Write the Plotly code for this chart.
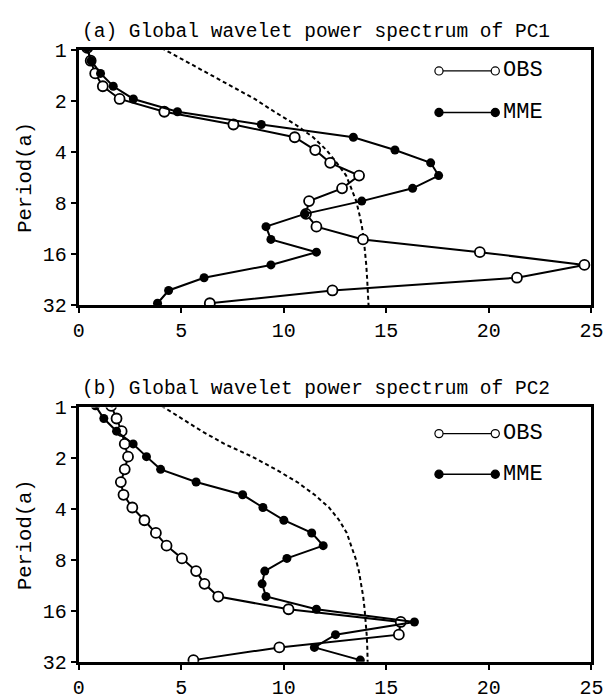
import plotly.graph_objects as go

# ---- data ----
periods = [0.977, 1.162, 1.381, 1.643, 1.953, 2.323, 2.762, 3.285, 3.906, 4.646, 5.525,
           6.570, 7.813, 9.292, 11.05, 13.14, 15.63, 18.58, 22.10, 26.28, 31.25]
sig_periods = periods + [37.16]

obs_pc1 = [0.41, 0.58, 0.80, 1.17, 1.99, 4.17, 7.54, 10.53, 11.53, 12.26, 13.67,
           12.84, 11.23, 11.08, 11.59, 13.86, 19.56, 24.66, 21.37, 12.37, 6.39]
mme_pc1 = [0.40, 0.60, 1.06, 1.68, 2.66, 4.81, 8.90, 13.39, 15.42, 17.16, 17.55,
           16.28, 13.80, 11.03, 9.13, 9.37, 11.59, 9.37, 6.11, 4.38, 3.84]
sig_pc1 = [4.03, 5.16, 6.30, 7.47, 8.58, 9.54, 10.56, 11.43, 12.08, 12.58, 13.04,
           13.29, 13.53, 13.68, 13.81, 13.90, 13.97, 14.02, 14.06, 14.09, 14.13, 14.16]

obs_pc2 = [1.58, 1.84, 2.09, 2.24, 2.40, 2.24, 2.05, 2.18, 2.61, 3.20, 3.76,
           4.28, 5.03, 5.72, 6.13, 6.80, 10.23, 15.70, 15.61, 9.78, 5.59]
mme_pc2 = [0.81, 1.22, 1.84, 2.65, 3.30, 3.99, 5.72, 7.99, 8.98, 10.00, 11.36,
           11.92, 10.15, 9.07, 8.94, 9.13, 11.59, 16.37, 12.52, 11.49, 13.73]
sig_pc2 = [4.03, 5.00, 6.00, 7.10, 8.45, 9.60, 10.65, 11.50, 12.20, 12.70, 13.07,
           13.28, 13.50, 13.66, 13.78, 13.87, 13.94, 14.00, 14.04, 14.07, 14.09, 14.10]

titles = ["(a) Global wavelet power spectrum of PC1",
          "(b) Global wavelet power spectrum of PC2"]
ytick_vals = [1, 2, 4, 8, 16, 32]
xtick_vals = [0, 5, 10, 15, 20, 25]
series_names = ["OBS", "MME"]

# ---- layout geometry (pixels) ----
W, H = 616, 700
X0, X1 = 75, 603
panels = [(41, 305), (411, 674)]
legend_rows = [(63, 106), (438, 480)]
title_y = [23, 392]
FONT = "Liberation Mono"

fig = go.Figure()

for i, (sig, obs, mme) in enumerate([(sig_pc1, obs_pc1, mme_pc1), (sig_pc2, obs_pc2, mme_pc2)]):
    xa = "x" if i == 0 else "x2"
    ya = "y" if i == 0 else "y2"
    fig.add_trace(go.Scatter(x=sig, y=sig_periods, mode="lines", xaxis=xa, yaxis=ya,
                             line=dict(color="black", width=2, dash="4px,3px"),
                             showlegend=False, hoverinfo="skip"))
    fig.add_trace(go.Scatter(x=obs, y=periods, mode="lines+markers", xaxis=xa, yaxis=ya,
                             line=dict(color="black", width=2),
                             marker=dict(symbol="circle", size=10, color="white",
                                         line=dict(color="black", width=1.8)),
                             name=series_names[0], showlegend=False))
    fig.add_trace(go.Scatter(x=mme, y=periods, mode="lines+markers", xaxis=xa, yaxis=ya,
                             line=dict(color="black", width=2),
                             marker=dict(symbol="circle", size=9, color="black",
                                         line=dict(color="black", width=0)),
                             name=series_names[1], showlegend=False))

axis_common = dict(showline=True, linecolor="black", linewidth=3, mirror=True,
                   ticks="outside", ticklen=5, tickwidth=2, tickcolor="black",
                   showgrid=False, zeroline=False,
                   tickfont=dict(family=FONT, size=20, color="black"))

layout = dict(width=W, height=H, margin=dict(l=0, r=0, t=0, b=0),
              paper_bgcolor="white", plot_bgcolor="white", showlegend=False)

for i, (top, bot) in enumerate(panels):
    sfx = "" if i == 0 else "2"
    layout["xaxis" + sfx] = dict(axis_common, domain=[X0 / W, X1 / W], range=[0, 25],
                                 tickvals=xtick_vals, anchor="y" + sfx)
    layout["yaxis" + sfx] = dict(axis_common, domain=[1 - bot / H, 1 - top / H],
                                 type="log", range=[1.50515, 0], tickvals=ytick_vals,
                                 ticktext=[str(v) for v in ytick_vals], anchor="x" + sfx)

fig.update_layout(**layout)

annotations = []
shapes = []
for i, (top, bot) in enumerate(panels):
    annotations.append(dict(text=titles[i], xref="paper", yref="paper",
                            x=76 / W, y=1 - title_y[i] / H, xanchor="left", yanchor="middle",
                            showarrow=False, font=dict(family=FONT, size=19.5, color="black")))
    annotations.append(dict(text="Period(a)", xref="paper", yref="paper",
                            x=20 / W, y=1 - (top + bot) / 2 / H, textangle=-90,
                            xanchor="center", yanchor="middle", showarrow=False,
                            font=dict(family=FONT, size=20.5, color="black")))
    for j, name in enumerate(series_names):
        ly = legend_rows[i][j]
        lx0, lx1 = 446, 504
        shapes.append(dict(type="line", xref="paper", yref="paper",
                           x0=lx0 / W, x1=lx1 / W, y0=1 - ly / H, y1=1 - ly / H,
                           line=dict(color="black", width=1.3)))
        for cx in (lx0, lx1):
            r = 4.2
            shapes.append(dict(type="circle", xref="paper", yref="paper",
                               x0=(cx - r) / W, x1=(cx + r) / W,
                               y0=1 - (ly + r) / H, y1=1 - (ly - r) / H,
                               fillcolor="white" if j == 0 else "black",
                               line=dict(color="black", width=1.2)))
        annotations.append(dict(text=name, xref="paper", yref="paper",
                                x=510 / W, y=1 - ly / H, xanchor="left", yanchor="middle",
                                showarrow=False, font=dict(family=FONT, size=22, color="black")))

fig.update_layout(annotations=annotations, shapes=shapes)
fig.write_html("out.html", config={"displayModeBar": False},
               post_script="document.body.style.margin='0';document.body.style.overflow='hidden';")
